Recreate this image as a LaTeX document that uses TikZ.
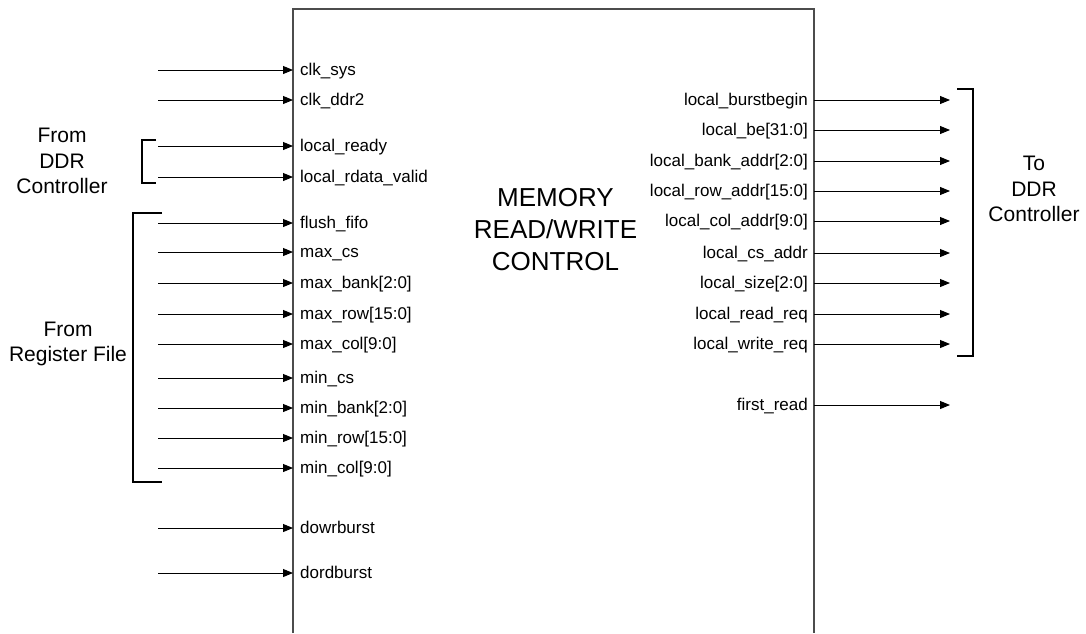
\documentclass[tikz,border=0pt]{standalone}
\usepackage{fontspec}
\setmainfont{Liberation Sans}
\usetikzlibrary{arrows.meta}
\begin{document}
\begin{tikzpicture}[x=1pt,y=-1pt,
  sig/.style={draw=black,line width=0.9pt,-{Triangle[length=10pt,width=8pt]}},
  brk/.style={draw=black,line width=1.1pt},
  boxline/.style={draw=black!70,line width=1.4pt},
  inlbl/.style={anchor=base west,inner sep=0pt,font=\fontsize{17}{20}\selectfont},
  outlbl/.style={anchor=base east,inner sep=0pt,font=\fontsize{17}{20}\selectfont},
  grouplbl/.style={align=center,inner sep=0pt,font=\fontsize{21}{25.5}\selectfont},
  titlelbl/.style={align=center,inner sep=0pt,font=\fontsize{26}{32}\selectfont}]
\useasboundingbox (0,0) rectangle (1086,633);
% block outline (open at the bottom)
\coordinate (bl) at (293,633);
\coordinate (tl) at (293,9);
\coordinate (tr) at (814,9);
\coordinate (br) at (814,633);
\draw[boxline] (bl) -- (tl) -- (tr) -- (br);
\node[titlelbl] (title) at (555.5,230) {MEMORY\\READ/WRITE\\CONTROL};
% inputs
\foreach \n/\y/\t in {a/70/clk\_sys, b/100/clk\_ddr2, c/146/local\_ready, d/177/local\_rdata\_valid,
  e/223/flush\_fifo, f/252/max\_cs, g/283/max\_bank[2:0], h/314/max\_row[15:0], i/344/max\_col[9:0],
  j/378/min\_cs, k/408/min\_bank[2:0], l/438/min\_row[15:0], m/468/min\_col[9:0],
  n/528/dowrburst, o/573/dordburst}{
  \coordinate (in\n) at (158,\y);
  \coordinate (pin\n) at (293,\y);
  \node[inlbl] (lbl\n) at (300,\y+5.5) {\t};
  \draw[sig] (in\n) -- (pin\n);
}
% outputs
\foreach \n/\y/\t in {a/100/local\_burstbegin, b/130/local\_be[31:0], c/161/local\_bank\_addr[2:0],
  d/191/local\_row\_addr[15:0], e/221/local\_col\_addr[9:0], f/253/local\_cs\_addr,
  g/283/local\_size[2:0], h/314/local\_read\_req, i/344/local\_write\_req, j/405/first\_read}{
  \coordinate (pout\n) at (814,\y);
  \coordinate (out\n) at (950,\y);
  \node[outlbl] (olbl\n) at (808,\y+5.5) {\t};
  \draw[sig] (pout\n) -- (out\n);
}
% brackets
\coordinate (b1a) at (156,140); \coordinate (b1b) at (142,140);
\coordinate (b1c) at (142,183); \coordinate (b1d) at (156,183);
\draw[brk] (b1a) -- (b1b) -- (b1c) -- (b1d);
\coordinate (b2a) at (162,213); \coordinate (b2b) at (133,213);
\coordinate (b2c) at (133,482); \coordinate (b2d) at (162,482);
\draw[brk] (b2a) -- (b2b) -- (b2c) -- (b2d);
\coordinate (b3a) at (957,89); \coordinate (b3b) at (973,89);
\coordinate (b3c) at (973,356); \coordinate (b3d) at (957,356);
\draw[brk] (b3a) -- (b3b) -- (b3c) -- (b3d);
% group labels
\node[grouplbl] (fromddr) at (62,161) {From\\DDR\\Controller};
\node[grouplbl] (fromreg) at (68,344) {From\\Register File};
\node[grouplbl] (toddr) at (1034,189) {To\\DDR\\Controller};
\end{tikzpicture}
\end{document}
